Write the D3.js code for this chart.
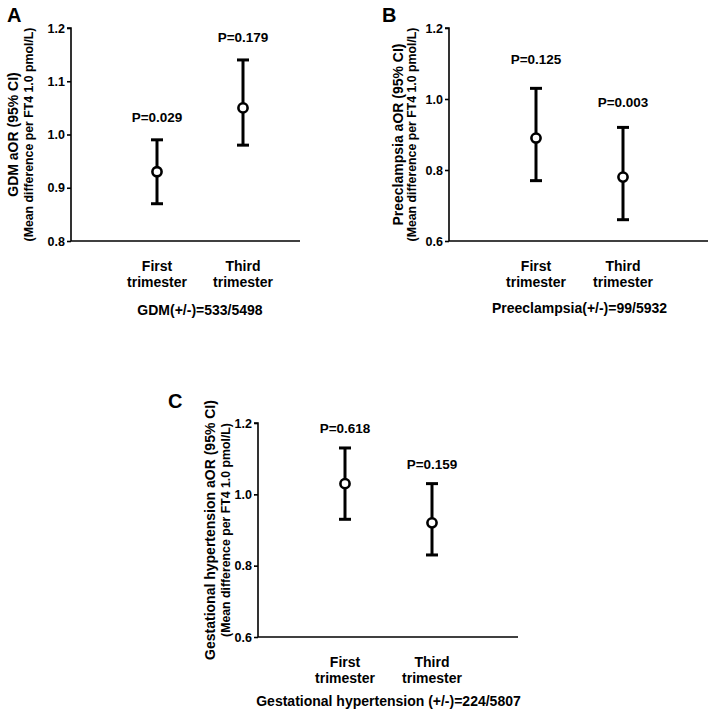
<!DOCTYPE html>
<html><head><meta charset="utf-8">
<script src="https://cdn.jsdelivr.net/npm/d3@7"></script>
<style>
body{margin:0;background:#fff;}
svg text{font-family:"Liberation Sans",Arial,sans-serif;font-weight:bold;fill:#000;}
</style></head>
<body>
<script>
// ---- data ----
const categories = [["First","trimester"],["Third","trimester"]];
const panelLetters = ["A","B","C"];
const panelTitles = ["GDM(+/-)=533/5498","Preeclampsia(+/-)=99/5932","Gestational hypertension (+/-)=224/5807"];
const yLabelsMain = ["GDM aOR (95% CI)","Preeclampsia aOR (95% CI)","Gestational hypertension aOR (95% CI)"];
const yLabelSub = "(Mean difference per FT4 1.0 pmol/L)";
const estimates = [[0.93,1.05],[0.89,0.78],[1.03,0.92]];
const lowerCI   = [[0.87,0.98],[0.77,0.66],[0.93,0.83]];
const upperCI   = [[0.99,1.14],[1.03,0.92],[1.13,1.03]];
const pValues   = [["P=0.029","P=0.179"],["P=0.125","P=0.003"],["P=0.618","P=0.159"]];
const pLabelAt  = [[1.0235,1.174],[1.099,0.977],[1.172,1.071]];
const yDomains  = [[0.8,1.2],[0.6,1.2],[0.6,1.2]];
const yTicks    = [[0.8,0.9,1.0,1.1,1.2],[0.6,0.8,1.0,1.2],[0.6,0.8,1.0,1.2]];

// ---- layout ----
const layout = [
  {ax:71, top:28, bottom:241, xEnd:300, step:86, titleDy:74, letter:[7,22], yl1:18, yl2:33},
  {ax:449, top:28, bottom:241, xEnd:708, step:87, titleDy:72, letter:[382,22], yl1:403, yl2:416},
  {ax:258, top:423, bottom:637, xEnd:518, step:87, titleDy:69, letter:[168,408], yl1:215, yl2:230}
];

const svg = d3.select("body").append("svg").attr("width",714).attr("height",711);

layout.forEach((L,i)=>{
  const g = svg.append("g");
  const catKeys = categories.map(c=>c.join(" "));
  const x = d3.scalePoint().domain(catKeys).range([L.ax, L.ax + 3*L.step]).padding(1);
  const y = d3.scaleLinear().domain(yDomains[i]).range([L.bottom, L.top]);

  // y axis
  const yAxis = d3.axisLeft(y).tickValues(yTicks[i]).tickFormat(d3.format(".1f")).tickSize(4).tickPadding(2);
  const ya = g.append("g").attr("transform",`translate(${L.ax},0)`).call(yAxis);
  ya.select(".domain").attr("stroke","#000").attr("stroke-width",1.6).attr("d",`M-4,${L.top}H0V${L.bottom}`);
  ya.selectAll(".tick line").attr("stroke","#000").attr("stroke-width",1.6);
  ya.selectAll(".tick text").style("font-size","12.5px").style("font-family","'Liberation Sans',Arial,sans-serif").style("font-weight","bold").attr("fill","#000");

  // x axis line
  g.append("line").attr("x1",L.ax).attr("x2",L.xEnd).attr("y1",L.bottom).attr("y2",L.bottom)
    .attr("stroke","#000").attr("stroke-width",1.6);

  // category labels
  categories.forEach((c,j)=>{
    const t = g.append("text").attr("text-anchor","middle").style("font-size","14px");
    t.append("tspan").attr("x",x(catKeys[j])).attr("y",L.bottom+30).text(c[0]);
    t.append("tspan").attr("x",x(catKeys[j])).attr("y",L.bottom+46).text(c[1]);
  });

  // title
  const mid = (x(catKeys[0])+x(catKeys[1]))/2;
  g.append("text").attr("x",mid).attr("y",L.bottom+L.titleDy).attr("text-anchor","middle")
    .style("font-size","14px").text(panelTitles[i]);

  // y labels
  const yc = (L.top+L.bottom)/2;
  g.append("text").attr("transform",`translate(${L.yl1},${yc}) rotate(-90)`).attr("text-anchor","middle")
    .style("font-size","14px").text(yLabelsMain[i]);
  g.append("text").attr("transform",`translate(${L.yl2},${yc}) rotate(-90)`).attr("text-anchor","middle")
    .style("font-size","12.3px").text(yLabelSub);

  // panel letter
  g.append("text").attr("x",L.letter[0]).attr("y",L.letter[1]).style("font-size","20px").text(panelLetters[i]);

  // error bars
  catKeys.forEach((k,j)=>{
    const cx = x(k);
    g.append("line").attr("x1",cx).attr("x2",cx).attr("y1",y(lowerCI[i][j])).attr("y2",y(upperCI[i][j]))
      .attr("stroke","#000").attr("stroke-width",3);
    [lowerCI[i][j],upperCI[i][j]].forEach(v=>{
      g.append("line").attr("x1",cx-6).attr("x2",cx+6).attr("y1",y(v)).attr("y2",y(v))
        .attr("stroke","#000").attr("stroke-width",3);
    });
    g.append("circle").attr("cx",cx).attr("cy",y(estimates[i][j])).attr("r",4.6)
      .attr("fill","#fff").attr("stroke","#000").attr("stroke-width",2.6);
    g.append("text").attr("x",cx).attr("y",y(pLabelAt[i][j])).attr("text-anchor","middle")
      .style("font-size","13.5px").text(pValues[i][j]);
  });
});
</script>
</body></html>
